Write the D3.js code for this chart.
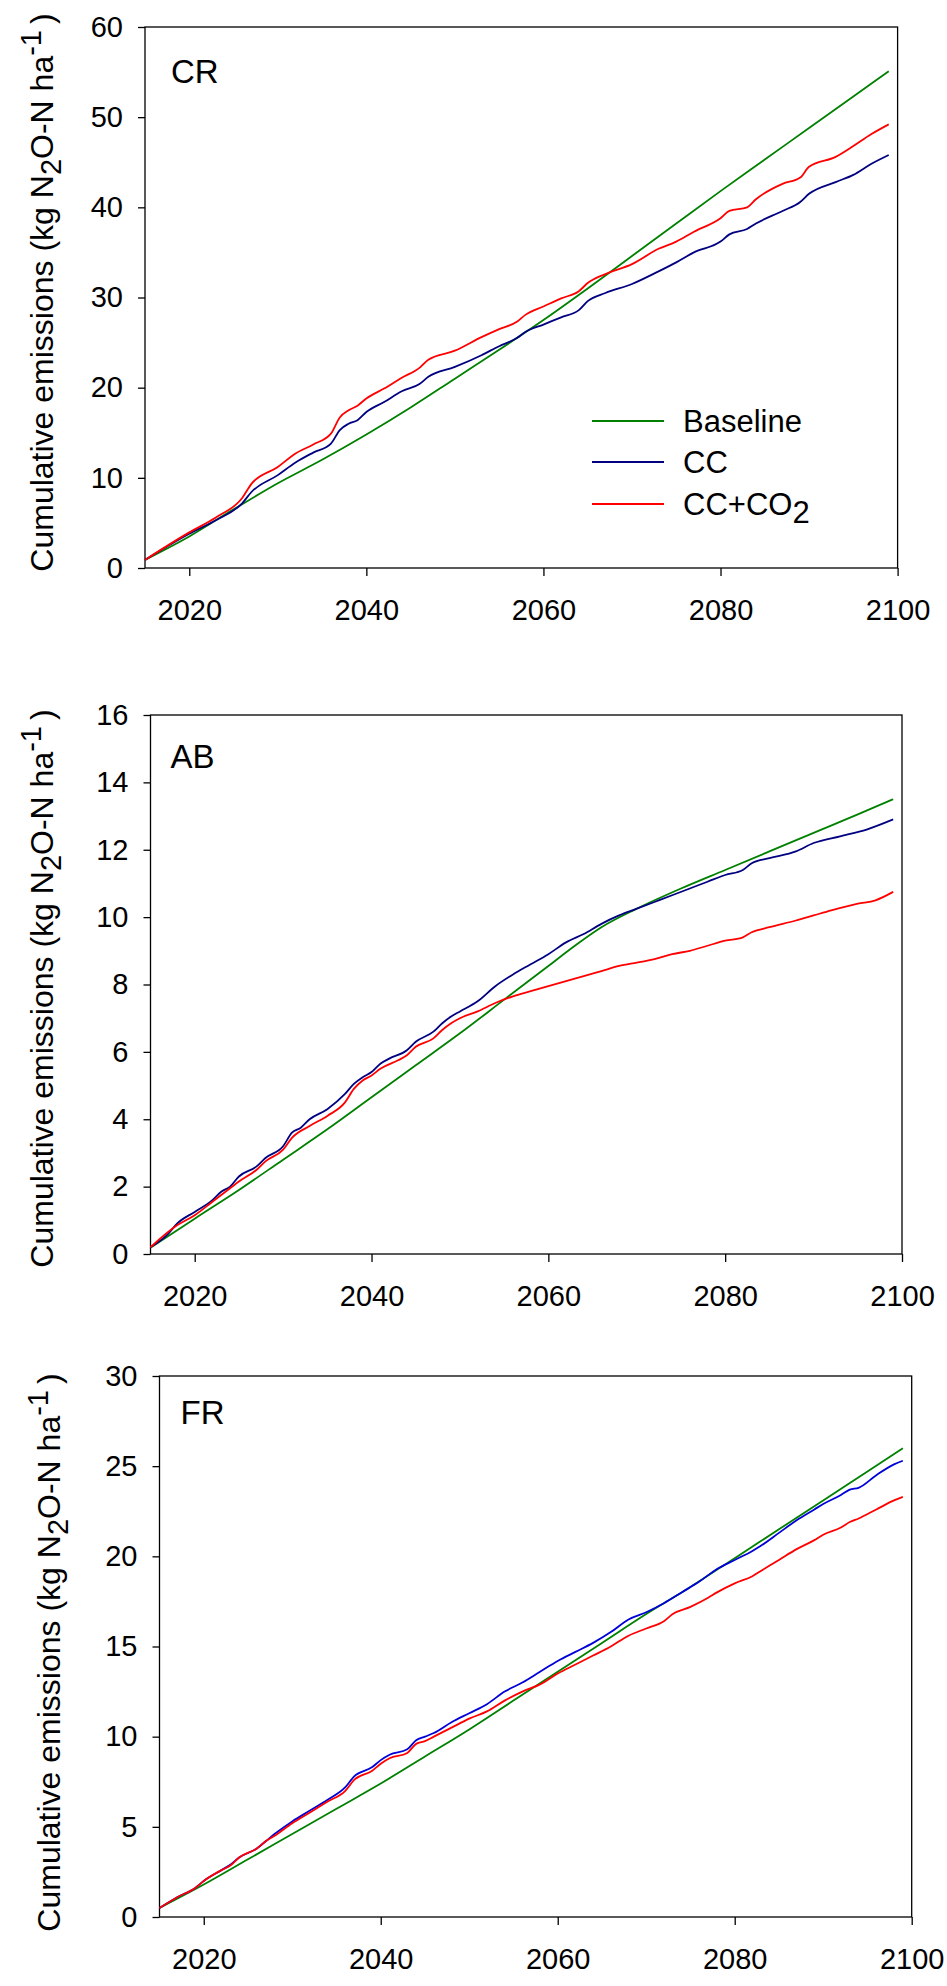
<!DOCTYPE html>
<html>
<head>
<meta charset="utf-8">
<script src="https://cdn.jsdelivr.net/npm/d3@7"></script>
<style>
  body { margin: 0; background: #fff; }
  text { font-family: Arial, "Liberation Sans", sans-serif; fill: #000; }
</style>
</head>
<body>
<svg id="chart"></svg>
<script>
// ---- data, [year, cumulative kg N2O-N/ha] ----
var xTicks = [2020, 2040, 2060, 2080, 2100];
var seriesNames = ["Baseline", "CC", "CC+CO2"];

var crBaseline = [[2015,0.9],[2020,3.5],[2025,6.5],[2030,9.4],[2035,12.0],[2040,14.8],[2045,17.8],[2050,21.0],[2055,24.2],[2060,27.5],[2065,31.0],[2070,34.6],[2075,38.2],[2080,41.8],[2085,45.3],[2090,48.8],[2095,52.3],[2099,55.1]];
var crCC = [[2015,0.9],[2020,3.8],[2023,5.3],[2026,7.2],[2027,8.4],[2030,10.3],[2032,11.7],[2034,12.8],[2036,13.8],[2037,15.3],[2038,16.0],[2039,16.4],[2040,17.3],[2042,18.4],[2044,19.6],[2046,20.4],[2047,21.2],[2050,22.3],[2053,23.6],[2055,24.6],[2057,25.5],[2058,26.2],[2060,27.0],[2062,27.8],[2064,28.6],[2065,29.6],[2067,30.5],[2070,31.5],[2073,32.9],[2075,33.9],[2077,35.0],[2080,36.2],[2081,37.0],[2083,37.6],[2084,38.2],[2087,39.6],[2089,40.6],[2090,41.5],[2093,42.8],[2095,43.6],[2097,44.8],[2099,45.8]];
var crCCCO2 = [[2015,0.9],[2020,3.95],[2023,5.6],[2026,7.8],[2027,9.3],[2030,11.2],[2032,12.7],[2034,13.7],[2036,14.9],[2037,16.7],[2038,17.5],[2039,18.0],[2040,18.8],[2042,19.9],[2044,21.1],[2046,22.2],[2047,23.1],[2050,24.1],[2053,25.6],[2055,26.5],[2057,27.3],[2058,28.1],[2060,29.0],[2062,29.9],[2064,30.7],[2065,31.6],[2067,32.6],[2070,33.7],[2073,35.4],[2075,36.2],[2077,37.3],[2080,38.8],[2081,39.6],[2083,40.0],[2084,40.9],[2087,42.6],[2089,43.3],[2090,44.5],[2093,45.6],[2095,46.8],[2097,48.1],[2099,49.2]];

var abBaseline = [[2015,0.19],[2020,1.05],[2025,1.9],[2030,2.8],[2035,3.7],[2040,4.65],[2045,5.6],[2050,6.55],[2055,7.55],[2060,8.55],[2063,9.15],[2066,9.7],[2070,10.25],[2075,10.85],[2080,11.4],[2085,11.95],[2090,12.5],[2095,13.05],[2099,13.5]];
var abCC = [[2015,0.2],[2017,0.6],[2018,0.9],[2020,1.25],[2022,1.6],[2023,1.85],[2024,2.0],[2025,2.3],[2027,2.6],[2028,2.85],[2030,3.2],[2031,3.6],[2032,3.75],[2033,4.0],[2035,4.3],[2037,4.75],[2038,5.05],[2039,5.25],[2040,5.4],[2041,5.65],[2042,5.8],[2044,6.05],[2045,6.3],[2047,6.6],[2048,6.85],[2049,7.05],[2050,7.2],[2052,7.5],[2054,7.95],[2056,8.3],[2058,8.6],[2060,8.9],[2062,9.25],[2064,9.5],[2066,9.8],[2068,10.05],[2070,10.25],[2072,10.45],[2074,10.65],[2076,10.85],[2078,11.05],[2080,11.25],[2082,11.4],[2083,11.6],[2085,11.75],[2088,11.95],[2090,12.2],[2093,12.4],[2096,12.6],[2099,12.9]];
var abCCCO2 = [[2015,0.2],[2018,0.85],[2020,1.15],[2022,1.55],[2024,1.95],[2025,2.15],[2027,2.5],[2028,2.75],[2030,3.1],[2031,3.45],[2033,3.8],[2035,4.1],[2037,4.5],[2038,4.9],[2039,5.15],[2040,5.3],[2041,5.5],[2043,5.75],[2044,5.9],[2045,6.15],[2047,6.4],[2048,6.65],[2049,6.85],[2050,7.0],[2052,7.2],[2054,7.45],[2056,7.65],[2058,7.8],[2060,7.95],[2062,8.1],[2064,8.25],[2066,8.4],[2068,8.55],[2070,8.65],[2072,8.75],[2074,8.9],[2076,9.0],[2078,9.15],[2080,9.3],[2082,9.4],[2083,9.55],[2085,9.7],[2088,9.9],[2090,10.05],[2092,10.2],[2095,10.4],[2097,10.5],[2099,10.75]];

var frBaseline = [[2015,0.5],[2020,1.8],[2025,3.2],[2030,4.6],[2035,6.0],[2040,7.4],[2045,8.9],[2050,10.4],[2055,12.0],[2060,13.6],[2065,15.2],[2070,16.8],[2075,18.3],[2080,19.9],[2085,21.5],[2090,23.1],[2095,24.7],[2099,26.0]];
var frCC = [[2015,0.5],[2017,1.1],[2019,1.6],[2020,2.0],[2022,2.6],[2023,2.9],[2024,3.3],[2026,3.8],[2027,4.2],[2028,4.6],[2030,5.3],[2032,5.9],[2034,6.5],[2036,7.2],[2037,7.8],[2039,8.3],[2040,8.7],[2041,9.0],[2043,9.3],[2044,9.8],[2045,10.0],[2046,10.2],[2048,10.8],[2050,11.3],[2052,11.8],[2054,12.5],[2056,13.0],[2058,13.6],[2060,14.2],[2062,14.7],[2064,15.2],[2066,15.8],[2068,16.5],[2070,16.9],[2072,17.4],[2074,18.0],[2076,18.6],[2078,19.3],[2080,19.8],[2082,20.3],[2083,20.6],[2085,21.3],[2087,22.0],[2089,22.6],[2090,22.9],[2092,23.4],[2093,23.7],[2094,23.8],[2096,24.5],[2098,25.1],[2099,25.3]];
var frCCCO2 = [[2015,0.5],[2017,1.1],[2019,1.6],[2020,2.0],[2022,2.6],[2023,2.85],[2024,3.3],[2026,3.8],[2027,4.2],[2028,4.5],[2030,5.2],[2032,5.8],[2034,6.4],[2036,7.0],[2037,7.6],[2039,8.1],[2040,8.5],[2041,8.8],[2043,9.1],[2044,9.6],[2045,9.75],[2046,10.0],[2048,10.5],[2050,11.0],[2052,11.4],[2054,12.0],[2056,12.5],[2058,12.9],[2060,13.5],[2062,14.0],[2064,14.5],[2066,15.0],[2068,15.6],[2070,16.0],[2072,16.4],[2073,16.8],[2075,17.2],[2077,17.7],[2078,18.0],[2080,18.5],[2082,18.9],[2083,19.2],[2085,19.8],[2087,20.4],[2089,20.9],[2090,21.2],[2092,21.6],[2093,21.9],[2094,22.1],[2096,22.6],[2098,23.1],[2099,23.3]];

var crYTicks = [0, 10, 20, 30, 40, 50, 60];
var abYTicks = [0, 2, 4, 6, 8, 10, 12, 14, 16];
var frYTicks = [0, 5, 10, 15, 20, 25, 30];

// ---- layout (pixels) ----
var W = 947, H = 1986;
var panels = [
    {label: "CR", top: 27,   bottom: 568,  left: 145,   right: 897.6, yTicks: crYTicks, series: [crBaseline, crCC, crCCCO2], blue: "#000080", lab: [26, 56], titleX: 53, titleShift: -5, legend: true},
    {label: "AB", top: 715,  bottom: 1254, left: 150.5, right: 902,   yTicks: abYTicks, series: [abBaseline, abCC, abCCCO2], blue: "#000080", lab: [20, 53], titleX: 53, titleShift: 4,  legend: false},
    {label: "FR", top: 1376, bottom: 1917, left: 159.5, right: 911.7, yTicks: frYTicks, series: [frBaseline, frCC, frCCCO2], blue: "#0000d8", lab: [21, 48], titleX: 60, titleShift: 6,  legend: false}
];
var green = "#008000", red = "#ff0000";

var svg = d3.select("#chart").attr("width", W).attr("height", H);
svg.append("rect").attr("width", W).attr("height", H).attr("fill", "#fff");

panels.forEach(function(p) {
    var x = d3.scaleLinear().domain([2015, 2100]).range([p.left, p.right]);
    var y = d3.scaleLinear().domain([0, d3.max(p.yTicks)]).range([p.bottom, p.top]);
    var colors = [green, p.blue, red];
    var g = svg.append("g");

    // axes, ticks outward
    var xa = g.append("g").attr("transform", "translate(0," + p.bottom + ")")
        .call(d3.axisBottom(x).tickValues(xTicks).tickFormat(d3.format("d"))
            .tickSize(8).tickSizeOuter(0).tickPadding(23));
    var ya = g.append("g").attr("transform", "translate(" + p.left + ",0)")
        .call(d3.axisLeft(y).tickValues(p.yTicks).tickSize(7).tickSizeOuter(0).tickPadding(15));
    [xa, ya].forEach(function(a) {
        a.select(".domain").remove();
        a.selectAll("line").attr("stroke", "#000").attr("stroke-width", 1.3);
        a.selectAll("text").attr("font-size", 29).attr("font-family", "Arial, 'Liberation Sans', sans-serif").attr("fill", "#000");
    });

    // frame
    g.append("rect")
        .attr("x", p.left).attr("y", p.top)
        .attr("width", p.right - p.left).attr("height", p.bottom - p.top)
        .attr("fill", "none").attr("stroke", "#000").attr("stroke-width", 1.3);

    // lines
    var line = d3.line().curve(d3.curveMonotoneX)
        .x(function(d) { return x(d[0]); }).y(function(d) { return y(d[1]); });
    p.series.forEach(function(s, i) {
        g.append("path").datum(s)
            .attr("d", line)
            .attr("fill", "none")
            .attr("stroke", colors[i])
            .attr("stroke-width", 1.8)
            .attr("stroke-linejoin", "round");
    });

    // panel label
    g.append("text")
        .attr("x", p.left + p.lab[0]).attr("y", p.top + p.lab[1])
        .attr("font-size", 33).text(p.label);

    // y title
    var cy = (p.top + p.bottom) / 2 + p.titleShift;
    var t = g.append("text")
        .attr("transform", "translate(" + p.titleX + "," + cy + ") rotate(-90)")
        .attr("text-anchor", "middle")
        .attr("font-size", 32);
    t.append("tspan").text("Cumulative emissions (kg N");
    t.append("tspan").attr("dy", 8).attr("font-size", 29).text("2");
    t.append("tspan").attr("dy", -8).text("O-N ha");
    t.append("tspan").attr("dy", -12).attr("font-size", 29).text("-1");
    t.append("tspan").attr("dy", 12).attr("dx", 6).text(")");

    // legend
    if (p.legend) {
        var rows = [421, 462, 504];
        seriesNames.forEach(function(name, i) {
            g.append("line")
                .attr("x1", 592).attr("x2", 664).attr("y1", rows[i]).attr("y2", rows[i])
                .attr("stroke", colors[i]).attr("stroke-width", 1.8);
            var lt = g.append("text").attr("x", 683).attr("y", rows[i] + 11).attr("font-size", 31);
            if (name == "CC+CO2") {
                lt.append("tspan").text("CC+CO");
                lt.append("tspan").attr("dy", 8).text("2");
            } else {
                lt.text(name);
            }
        });
    }
});
</script>
</body>
</html>
